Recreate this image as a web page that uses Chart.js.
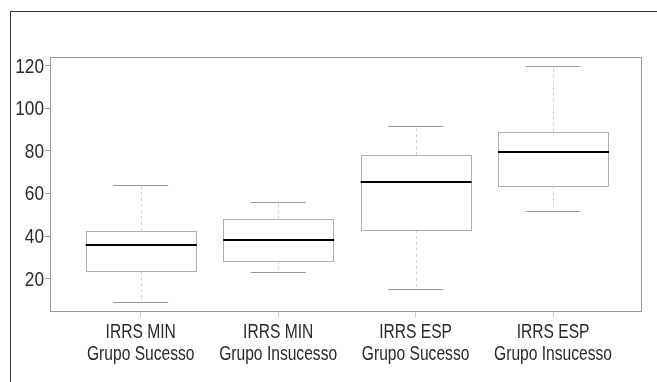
<!DOCTYPE html>
<html>
<head>
<meta charset="utf-8">
<script src="https://cdn.jsdelivr.net/npm/chart.js@4/dist/chart.umd.min.js"></script>
<style>
  html, body { margin: 0; padding: 0; background: #fff; }
  #wrap { position: relative; width: 657px; height: 382px; overflow: hidden; }
  #frame { position: absolute; left: 10px; top: 11px; width: 700px; height: 400px;
           border-top: 1px solid #333; border-left: 1px solid #333; }
  #chart { position: absolute; left: 0; top: 0; }
</style>
</head>
<body>
<div id="wrap">
  <div id="frame"></div>
  <canvas id="chart" width="657" height="382"></canvas>
</div>
<script>
// --- Data ---
const categories = [
  ['IRRS MIN', 'Grupo Sucesso'],
  ['IRRS MIN', 'Grupo Insucesso'],
  ['IRRS ESP', 'Grupo Sucesso'],
  ['IRRS ESP', 'Grupo Insucesso']
];
const whiskerLow  = [9, 23, 15, 52];
const q1          = [23.5, 28.5, 43, 63.5];
const median      = [36, 38, 65.5, 79.5];
const q3          = [42.5, 48, 78, 89];
const whiskerHigh = [64, 56, 91.5, 120];
const yTicks = [20, 40, 60, 80, 100, 120];

const FONT = "'Liberation Sans', Arial, sans-serif";

// narrow text: regular face squeezed horizontally
function narrowText(ctx, text, px, py, size, squeeze, align) {
  ctx.save();
  ctx.translate(px, py);
  ctx.scale(squeeze, 1);
  ctx.font = size + 'px ' + FONT;
  ctx.textAlign = align;
  ctx.textBaseline = 'middle';
  ctx.fillText(text, 0, 0);
  ctx.restore();
}

// --- Box plot drawing through the chart scales ---
const boxPlot = {
  id: 'boxPlot',
  afterDatasetsDraw(chart) {
    const { ctx, chartArea: a, scales: { x, y } } = chart;
    const boxHalf = 0.4, capHalf = 0.2;

    ctx.save();
    // plot frame
    ctx.strokeStyle = '#9a9a9a';
    ctx.lineWidth = 1;
    ctx.strokeRect(Math.round(a.left) + 0.5, Math.round(a.top) + 0.5,
                   Math.round(a.width), Math.round(a.height));

    categories.forEach((c, i) => {
      const cx = Math.round(x.getPixelForValue(i)) + 0.5;
      const bl = x.getPixelForValue(i - boxHalf), br = x.getPixelForValue(i + boxHalf);
      const cl = x.getPixelForValue(i - capHalf), cr = x.getPixelForValue(i + capHalf);
      const yLo = y.getPixelForValue(whiskerLow[i]);
      const yQ1 = y.getPixelForValue(q1[i]);
      const yMed = y.getPixelForValue(median[i]);
      const yQ3 = y.getPixelForValue(q3[i]);
      const yHi = y.getPixelForValue(whiskerHigh[i]);

      // whiskers (dashed)
      ctx.strokeStyle = '#cfcfcf';
      ctx.lineWidth = 1;
      ctx.setLineDash([3, 3]);
      ctx.beginPath();
      ctx.moveTo(cx, yQ3); ctx.lineTo(cx, yHi);
      ctx.moveTo(cx, yQ1); ctx.lineTo(cx, yLo);
      ctx.stroke();
      ctx.setLineDash([]);

      // caps
      ctx.strokeStyle = '#9a9a9a';
      ctx.beginPath();
      ctx.moveTo(cl, Math.round(yHi) + 0.5); ctx.lineTo(cr, Math.round(yHi) + 0.5);
      ctx.moveTo(cl, Math.round(yLo) + 0.5); ctx.lineTo(cr, Math.round(yLo) + 0.5);
      ctx.stroke();

      // box
      ctx.strokeStyle = '#b0b0b0';
      ctx.strokeRect(Math.round(bl) + 0.5, Math.round(yQ3) + 0.5,
                     Math.round(br - bl), Math.round(yQ1 - yQ3));

      // median
      ctx.strokeStyle = '#000';
      ctx.lineWidth = 2;
      ctx.beginPath();
      ctx.moveTo(bl, Math.round(yMed)); ctx.lineTo(br + 1, Math.round(yMed));
      ctx.stroke();
    });

    // tick labels
    ctx.fillStyle = '#2a2a2a';
    yTicks.forEach(v => {
      narrowText(ctx, String(v), a.left - 6, y.getPixelForValue(v) + 1, 21, 0.82, 'right');
    });
    categories.forEach((lines, i) => {
      const cx = x.getPixelForValue(i);
      lines.forEach((t, k) => {
        narrowText(ctx, t, cx, a.bottom + 21 + k * 22, 20, 0.78, 'center');
      });
    });
    ctx.restore();
  }
};

const ctx = document.getElementById('chart').getContext('2d');
new Chart(ctx, {
  type: 'scatter',
  data: {
    datasets: [{
      data: median.map((m, i) => ({ x: i, y: m })),
      pointRadius: 0,
      pointHoverRadius: 0
    }]
  },
  options: {
    responsive: false,
    animation: false,
    devicePixelRatio: 1,
    events: [],
    layout: { padding: { top: 57, right: 16, left: 0, bottom: 0 } },
    plugins: { legend: { display: false }, tooltip: { enabled: false } },
    scales: {
      x: {
        type: 'linear',
        min: -0.66,
        max: 3.64,
        afterBuildTicks: s => { s.ticks = categories.map((c, i) => ({ value: i })); },
        afterFit: s => { s.height = 382 - 311; },
        border: { display: false },
        grid: { drawOnChartArea: false, drawTicks: true, tickLength: 6, color: '#c8c8c8' },
        ticks: { display: false }
      },
      y: {
        min: 4.9,
        max: 124.1,
        afterBuildTicks: s => { s.ticks = yTicks.map(v => ({ value: v })); },
        afterFit: s => { s.width = 50; },
        border: { display: false },
        grid: { drawOnChartArea: false, drawTicks: true, tickLength: 5, color: '#9a9a9a' },
        ticks: { display: false }
      }
    }
  },
  plugins: [boxPlot]
});
</script>
</body>
</html>
